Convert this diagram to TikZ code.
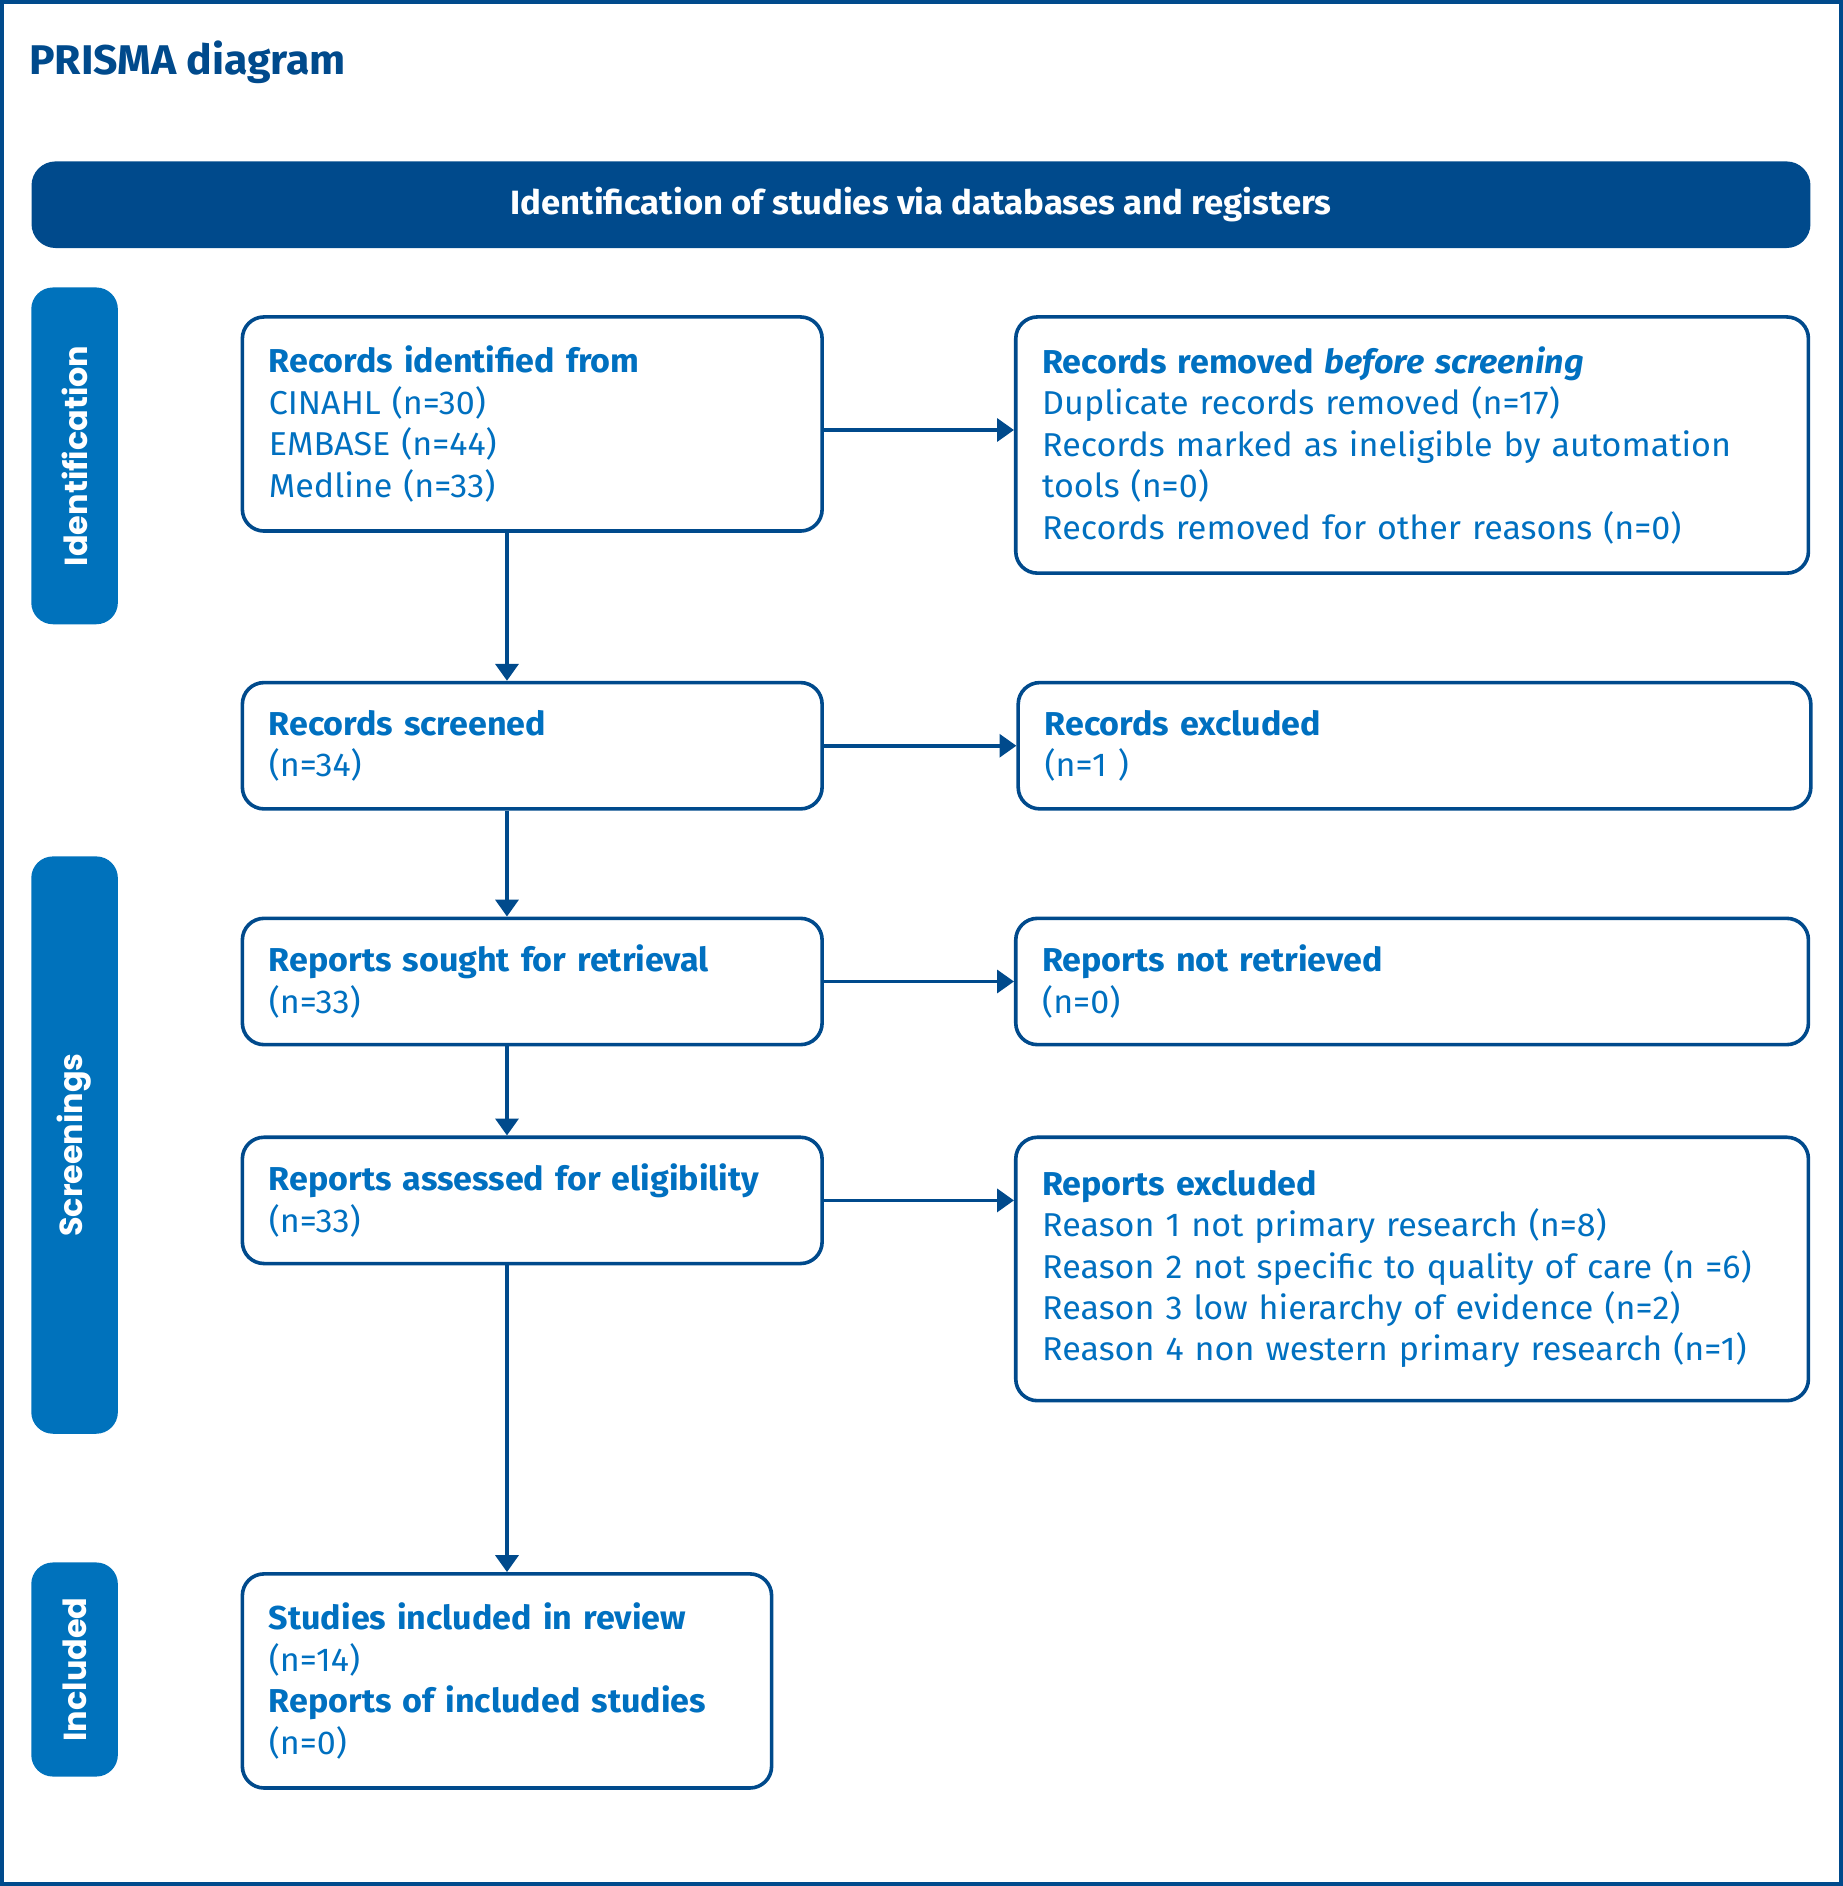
\documentclass[tikz,border=0pt]{standalone}
\usepackage{fontspec}
\setmainfont{Fira Sans}[FakeStretch=1.03]
\newfontfamily\tabfont{Poppins}
\usetikzlibrary{arrows.meta}

\definecolor{prismanavy}{HTML}{004A8C}
\definecolor{prismablue}{HTML}{0072BC}
\definecolor{prismatext}{HTML}{0070C0}

\begin{document}
\begin{tikzpicture}[x=1pt,y=-1pt,
    box/.style={draw=prismanavy, line width=3pt, rounded corners=18pt, fill=white,
      anchor=north west, align=left, inner xsep=22pt, inner ysep=0pt,
      text=prismatext, font=\fontsize{27.5}{34.5}\selectfont},
    tab/.style={fill=prismablue, rounded corners=18pt, rotate=90, minimum height=72pt,
      text=white, font=\tabfont\bfseries\fontsize{26.5}{30}\selectfont},
    arr/.style={draw=prismanavy, line width=3pt, -{Triangle[width=19pt,length=14pt]}}]
    \useasboundingbox (0,0) rectangle (1532,1568);
    \draw[prismanavy, line width=3pt] (1.5,1.5) rectangle (1530.5,1566.5);

    \node[anchor=base west, text=prismanavy, inner sep=0pt,
      font=\bfseries\fontsize{34.5}{40}\selectfont] (title) at (24,62) {PRISMA diagram};
    \node[fill=prismanavy, rounded corners=20pt, minimum width=1479pt, minimum height=72pt,
      anchor=north west, text=white, font=\bfseries\fontsize{28}{34}\selectfont]
      (head) at (26,134) {Identification of studies via databases and registers};

    % phase tabs
    \node[tab, minimum width=280pt] (tabident) at (62,379) {Identification};
    \node[tab, minimum width=480pt] (tabscreen) at (62,952) {Screenings};
    \node[tab, minimum width=178pt] (tabincl) at (62,1388) {Included};

    % left column
    \node[box, text width=438pt, minimum height=178pt] (identified) at (200,262)
      {\textbf{Records identified from}\\CINAHL (n=30)\\EMBASE (n=44)\\Medline (n=33)};
    \node[box, text width=438pt, minimum height=105pt] (screened) at (200,566)
      {\textbf{Records screened}\\(n=34)};
    \node[box, text width=438pt, minimum height=105pt] (sought) at (200,762)
      {\textbf{Reports sought for retrieval}\\(n=33)};
    \node[box, text width=438pt, minimum height=105pt] (assessed) at (200,944)
      {\textbf{Reports assessed for eligibility}\\(n=33)};
    \node[box, text width=396pt, minimum height=178pt] (included) at (200,1307)
      {\textbf{Studies included in review}\\(n=14)\\\textbf{Reports of included studies}\\(n=0)};

    % right column
    \node[box, text width=615pt, minimum height=213pt] (removed) at (843,262)
      {\textbf{Records removed \emph{before screening}}\\Duplicate records removed (n=17)\\
       Records marked as ineligible by automation\\tools (n=0)\\
       Records removed for other reasons (n=0)};
    \node[box, text width=615pt, minimum height=105pt] (excluded) at (845,566)
      {\textbf{Records excluded}\\(n=1 )};
    \node[box, text width=615pt, minimum height=105pt] (notretr) at (843,762)
      {\textbf{Reports not retrieved}\\(n=0)};
    \node[box, text width=615pt, minimum height=219pt] (repexcl) at (843,944)
      {\textbf{Reports excluded}\\Reason 1 not primary research (n=8)\\
       Reason 2 not specific to quality of care (n =6)\\
       Reason 3 low hierarchy of evidence (n=2)\\
       Reason 4 non western primary research (n=1)};

    % connectors
    \draw[arr] ([yshift=-5pt]identified.east) -- ([yshift=-5pt]identified.east -| removed.west);
    \draw[arr] (screened.east) -- (screened.east -| excluded.west);
    \draw[arr] (sought.east) -- (sought.east -| notretr.west);
    \draw[arr] (assessed.east) -- (assessed.east -| repexcl.west);
    \draw[arr] (identified.south -| included.north) -- (screened.north -| included.north);
    \draw[arr] (screened.south -| included.north) -- (sought.north -| included.north);
    \draw[arr] (sought.south -| included.north) -- (assessed.north -| included.north);
    \draw[arr] (assessed.south -| included.north) -- (included.north);
\end{tikzpicture}
\end{document}
